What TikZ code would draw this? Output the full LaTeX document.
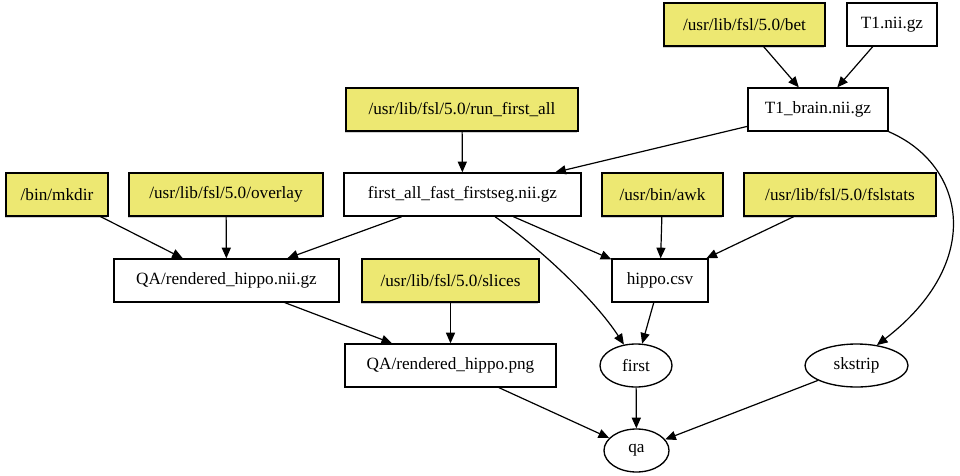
\documentclass[tikz,border=0pt]{standalone}
\usepackage{fontspec}
\setmainfont{Liberation Serif}
\usetikzlibrary{arrows.meta,shapes.geometric,shadows}
\definecolor{prog}{HTML}{EDE872}
\begin{document}
\begin{tikzpicture}[x=0.75pt,y=-0.75pt,
  every node/.style={font=\fontsize{12.9}{15}\selectfont, inner sep=0pt, line width=1pt},
  filebox/.style={draw, rectangle, minimum height=32.25pt, fill=white},
  progbox/.style={draw, rectangle, minimum height=32.25pt, fill=prog,
     drop shadow={shadow xshift=-0.8pt, shadow yshift=-1.2pt, fill=black, opacity=0.18}},
  oval/.style={draw, ellipse, minimum height=32.25pt, fill=white},
  edge/.style={draw, line width=0.9pt, -{Triangle[length=8pt,width=6.8pt]}}]
\useasboundingbox (0,0) rectangle (960,475);

\node[progbox, minimum width={161*0.75pt}] (bet) at (744.5,24.5) {/usr/lib/fsl/5.0/bet};
\node[filebox, minimum width={90*0.75pt}] (t1) at (892,24.5) {T1.nii.gz};
\node[filebox, minimum width={140*0.75pt}] (brain) at (818,109.5) {T1\_brain.nii.gz};
\node[progbox, minimum width={232*0.75pt}] (run) at (462,109.5) {/usr/lib/fsl/5.0/run\_first\_all};
\node[filebox, minimum width={237*0.75pt}] (fafs) at (462.5,194.5) {first\_all\_fast\_firstseg.nii.gz};
\node[progbox, minimum width={102*0.75pt}] (mkdir) at (57,194.5) {/bin/mkdir};
\node[progbox, minimum width={194*0.75pt}] (overlay) at (226,194.5) {/usr/lib/fsl/5.0/overlay};
\node[progbox, minimum width={121*0.75pt}] (awk) at (662.5,194.5) {/usr/bin/awk};
\node[progbox, minimum width={192*0.75pt}] (fslstats) at (840,194.5) {/usr/lib/fsl/5.0/fslstats};
\node[filebox, minimum width={225*0.75pt}] (qanii) at (226.5,280.5) {QA/rendered\_hippo.nii.gz};
\node[progbox, minimum width={177*0.75pt}] (slices) at (450.5,280.5) {/usr/lib/fsl/5.0/slices};
\node[filebox, minimum width={96*0.75pt}] (hippo) at (660,280.5) {hippo.csv};
\node[filebox, minimum width={211*0.75pt}] (png) at (450.5,365.5) {QA/rendered\_hippo.png};
\node[oval, minimum width={72*0.75pt}] (first) at (636,365.5) {first};
\node[oval, minimum width={103*0.75pt}] (skstrip) at (856.5,365.5) {skstrip};
\node[oval, minimum width={65*0.75pt}] (qa) at (636.5,450.5) {qa};

\coordinate (fafsc) at ([xshift={32.5*0.75pt}]fafs.south);

\draw[edge] (bet) -- (brain);
\draw[edge] (t1) -- (brain);
\draw[edge] (brain) -- (fafs);
\draw[edge] (brain.south east) .. controls (966,165) and (985,262) .. (skstrip.45);
\draw[edge] (run) -- (fafs);
\draw[edge] (fafs) -- (qanii);
\draw[edge] (fafs) -- (hippo);
\draw[edge] (fafsc) .. controls (540,248) and (595,300) .. (first.120);
\draw[edge] (awk) -- (hippo);
\draw[edge] (fslstats) -- (hippo);
\draw[edge] (hippo) -- (first);
\draw[edge] (mkdir) -- (qanii);
\draw[edge] (overlay) -- (qanii);
\draw[edge] (qanii) -- (png);
\draw[edge] (slices) -- (png);
\draw[edge] (png) -- (qa);
\draw[edge] (first) -- (qa);
\draw[edge] (skstrip) -- (qa);
\end{tikzpicture}
\end{document}
